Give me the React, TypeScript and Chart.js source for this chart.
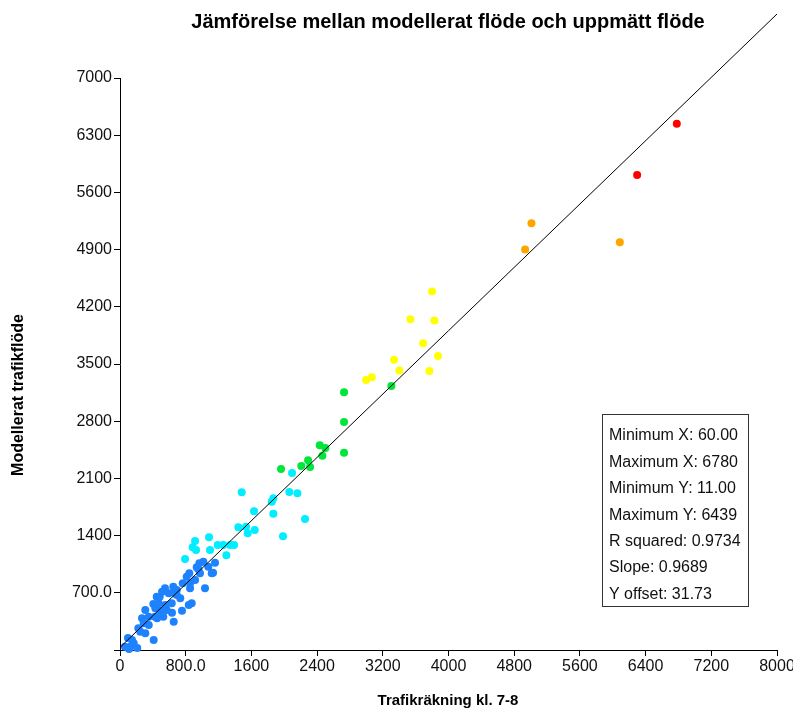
import React, { useEffect, useRef } from "react";
import { Chart, registerables } from "chart.js";

Chart.register(...registerables);

const TITLE = "Jämförelse mellan modellerat flöde och uppmätt flöde";
const X_TITLE = "Trafikräkning kl. 7-8";
const Y_TITLE = "Modellerat trafikflöde";
const STATS_LINES = [
  "Minimum X: 60.00",
  "Maximum X: 6780",
  "Minimum Y: 11.00",
  "Maximum Y: 6439",
  "R squared: 0.9734",
  "Slope: 0.9689",
  "Y offset: 31.73",
];

const X_MIN = 0;
const X_MAX = 8000;
const X_STEP = 800;
const Y_MIN = 0;
const Y_MAX = 7000;
const Y_STEP = 700;

const FIT_X = [0, 8000];
const FIT_Y = [31.73, 7783];

const BLUE_X = [60, 110, 125, 210, 146, 167, 247, 308, 410, 289, 350, 268, 350, 451, 654, 308, 430, 512, 633, 755, 471, 552, 837, 484, 734, 512, 593, 654, 691, 548, 649, 764, 812, 853, 914, 1035, 844, 934, 966, 1015, 1075, 1117, 1157, 954, 974, 1133, 853, 873, 447, 406, 630, 569, 487, 426, 527, 223, 97, 691];
const BLUE_Y = [40, 11, 40, 25, 122, 82, 224, 204, 122, 327, 306, 388, 408, 388, 346, 490, 510, 449, 457, 481, 572, 551, 551, 652, 633, 714, 694, 701, 673, 755, 775, 816, 897, 755, 857, 755, 939, 1012, 1061, 1081, 1020, 939, 1069, 988, 939, 946, 816, 572, 652, 563, 572, 490, 481, 408, 408, 266, 147, 734];

const CYAN_X = [792, 885, 914, 926, 1084, 1096, 1190, 1258, 1340, 1389, 1295, 1441, 1535, 1641, 1555, 1482, 1632, 1867, 1848, 1867, 2062, 2160, 2253, 1985, 2095];
const CYAN_Y = [1114, 1257, 1334, 1224, 1379, 1224, 1285, 1285, 1285, 1285, 1159, 1502, 1509, 1469, 1428, 1930, 1698, 1857, 1815, 1668, 1934, 1918, 1603, 1392, 2166];

const GREEN_X = [2728, 2728, 2432, 2501, 2464, 2728, 2290, 2208, 2314, 1961, 3304];
const GREEN_Y = [3154, 2791, 2506, 2472, 2378, 2415, 2322, 2252, 2240, 2215, 3231];

const YELLOW_X = [3800, 3536, 3828, 3691, 3873, 3337, 3402, 3767, 2996, 3066];
const YELLOW_Y = [4386, 4048, 4031, 3754, 3599, 3553, 3419, 3415, 3305, 3338];

const ORANGE_X = [5010, 4933, 6086];
const ORANGE_Y = [5223, 4900, 4990];

const RED_X = [6780, 6297];
const RED_Y = [6439, 5814];

const COLORS = {
  blue: "#1E82FF",
  cyan: "#00EEFF",
  green: "#00E63A",
  yellow: "#FFFF00",
  orange: "#FFA500",
  red: "#FF0000",
};

const FONT = "Arial, 'Liberation Sans', sans-serif";

function pts(xs: number[], ys: number[]) {
  return xs.map((x, i) => ({ x, y: ys[i] }));
}

function fmt(v: number) {
  if (v === 0) return "0";
  if (v < 1000) return v.toFixed(1);
  return String(v);
}

const textPlugin = {
  id: "texts",
  afterDraw(chart: any) {
    const ctx = chart.ctx as CanvasRenderingContext2D;
    ctx.save();
    ctx.fillStyle = "#000";
    ctx.textAlign = "center";
    ctx.textBaseline = "middle";
    ctx.font = `bold 20px ${FONT}`;
    ctx.fillText(TITLE, 448, 22);
    ctx.font = `bold 15px ${FONT}`;
    ctx.fillText(X_TITLE, 448, 701);
    ctx.save();
    ctx.translate(19, 395);
    ctx.rotate(-Math.PI / 2);
    ctx.font = `bold 16px ${FONT}`;
    ctx.fillText(Y_TITLE, 0, 0);
    ctx.restore();

    // stats box
    ctx.fillStyle = "#fff";
    ctx.fillRect(602.5, 414.5, 146, 192);
    ctx.strokeStyle = "#333";
    ctx.lineWidth = 1;
    ctx.strokeRect(602.5, 414.5, 146, 192);
    ctx.fillStyle = "#111";
    ctx.textAlign = "left";
    ctx.font = `16px ${FONT}`;
    STATS_LINES.forEach((t, i) => {
      ctx.fillText(t, 609, 436 + i * 26.4);
    });
    ctx.restore();
  },
};

export default function App() {
  const ref = useRef<HTMLCanvasElement>(null);
  useEffect(() => {
    if (!ref.current) return;
    const mk = (xs: number[], ys: number[], c: string) => ({
      data: pts(xs, ys),
      backgroundColor: c,
      borderColor: c,
      pointRadius: 4,
      pointBorderWidth: 0,
      pointHoverRadius: 4,
      clip: false as any,
    });
    const chart = new Chart(ref.current, {
      type: "scatter",
      data: {
        datasets: [
          {
            data: pts(FIT_X, FIT_Y),
            showLine: true,
            borderColor: "#000",
            borderWidth: 1,
            pointRadius: 0,
            clip: false as any,
          } as any,
          mk(BLUE_X, BLUE_Y, COLORS.blue),
          mk(CYAN_X, CYAN_Y, COLORS.cyan),
          mk(GREEN_X, GREEN_Y, COLORS.green),
          mk(YELLOW_X, YELLOW_Y, COLORS.yellow),
          mk(ORANGE_X, ORANGE_Y, COLORS.orange),
          mk(RED_X, RED_Y, COLORS.red),
        ],
      },
      options: {
        responsive: false,
        animation: false,
        devicePixelRatio: 1,
        events: [],
        layout: { padding: { top: 78, right: 16, left: 0, bottom: 0 } },
        plugins: {
          legend: { display: false },
          tooltip: { enabled: false },
          title: { display: false },
        },
        scales: {
          x: {
            type: "linear",
            min: X_MIN,
            max: X_MAX,
            border: { color: "#000", width: 1 },
            grid: { drawOnChartArea: false, drawTicks: true, tickLength: 6, color: "#000" },
            ticks: {
              stepSize: X_STEP,
              color: "#111",
              padding: 1,
              maxRotation: 0,
              autoSkip: false,
              font: { family: FONT, size: 16 },
              callback: (v: any) => fmt(Number(v)),
            },
            afterFit: (s: any) => {
              s.height = 59;
              s.paddingLeft = 0;
              s.paddingRight = 0;
            },
          },
          y: {
            type: "linear",
            min: Y_MIN,
            max: Y_MAX,
            border: { color: "#000", width: 1 },
            grid: { drawOnChartArea: false, drawTicks: true, tickLength: 6, color: "#000" },
            ticks: {
              stepSize: Y_STEP,
              color: "#111",
              padding: 2,
              autoSkip: false,
              font: { family: FONT, size: 16 },
              callback: (v: any) => (Number(v) === 0 ? "" : fmt(Number(v))),
            },
            afterFit: (s: any) => {
              s.width = 120;
              s.paddingTop = 0;
              s.paddingBottom = 0;
            },
          },
        },
      },
      plugins: [textPlugin],
    });
    return () => chart.destroy();
  }, []);
  return (
    <div style={{ position: "absolute", left: 0, top: 0, width: 793, height: 709, background: "#fff" }}>
      <canvas ref={ref} width={793} height={709} style={{ display: "block" }} />
    </div>
  );
}
